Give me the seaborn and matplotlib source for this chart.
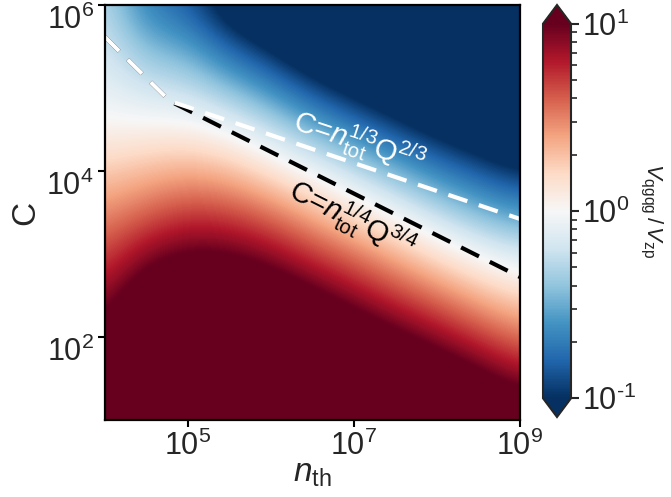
import numpy as np
import matplotlib
matplotlib.use("Agg")
import matplotlib.pyplot as plt
import matplotlib.ticker as mticker
from matplotlib.colors import LogNorm, Normalize
import matplotlib.cm as cm
import seaborn as sns

# ---------------- data ----------------
# grid positions (log10 of n_th and of C)
log_nth = [4.0, 4.5, 5.0, 5.5, 6.0, 6.5, 7.0, 7.5, 8.0, 8.5, 9.0]
log_C = [1.0, 1.5, 2.0, 2.5, 3.0, 3.5, 4.0, 4.5, 5.0, 5.5, 6.0]
# log10 of the plotted ratio, rows follow log_C, columns follow log_nth
log_ratio = [
    [1.46, 2.16, 2.37, 2.38, 2.32, 2.14, 1.96, 1.79, 1.64, 1.46, 1.26],
    [1.26, 1.84, 2.03, 2.04, 1.96, 1.79, 1.61, 1.43, 1.27, 1.09, 0.90],
    [1.06, 1.53, 1.70, 1.70, 1.61, 1.43, 1.25, 1.07, 0.90, 0.72, 0.54],
    [0.86, 1.22, 1.37, 1.36, 1.25, 1.07, 0.89, 0.71, 0.54, 0.35, 0.20],
    [0.66, 0.91, 1.03, 1.01, 0.89, 0.71, 0.54, 0.35, 0.15, -0.03, -0.17],
    [0.46, 0.59, 0.70, 0.67, 0.54, 0.35, 0.15, -0.04, -0.25, -0.44, -0.58],
    [0.25, 0.32, 0.38, 0.32, 0.15, -0.04, -0.25, -0.46, -0.67, -0.84, -1.00],
    [0.04, 0.05, 0.06, -0.04, -0.23, -0.46, -0.67, -0.88, -1.08, -1.24, -1.42],
    [-0.08, -0.20, -0.24, -0.42, -0.63, -0.89, -1.10, -1.30, -1.50, -1.64, -1.83],
    [-0.17, -0.45, -0.53, -0.81, -1.04, -1.32, -1.53, -1.73, -1.92, -2.03, -2.25],
    [-0.27, -0.70, -0.82, -1.19, -1.46, -1.75, -1.97, -2.15, -2.33, -2.43, -2.67],
]

# boundary lines (log10 n_th, log10 C)
line13_logn = [4.0, 4.78, 9.0]
line13_logC = [5.614, 4.843, 3.422]
line14_logn = [4.0, 4.78, 9.0]
line14_logC = [5.614, 4.843, 2.723]

label13 = r"C=$n_{\rm tot}^{1/3}$Q$^{2/3}$"
label14 = r"C=$n_{\rm tot}^{1/4}$Q$^{3/4}$"
cbar_label = r"$V_{\rm qgqg}\,/\,V_{\rm zp}$"
x_tick_exps = [5, 7, 9]
y_tick_exps = [2, 4, 6]
cbar_ticks = [0.1, 1, 10]
cbar_ticklabels = [r"$10^{\text{-1}}$", r"$10^{0}$", r"$10^{1}$"]

# ---------------- style ----------------
sns.set_style("ticks")
plt.rcParams["font.family"] = ["Liberation Sans", "DejaVu Sans"]
plt.rcParams["mathtext.fontset"] = "custom"
plt.rcParams["mathtext.rm"] = "Liberation Sans"
plt.rcParams["mathtext.it"] = "Liberation Sans:italic"
plt.rcParams["mathtext.bf"] = "Liberation Sans:bold"
plt.rcParams["axes.linewidth"] = 1.5
plt.rcParams["axes.unicode_minus"] = False

cmap = sns.color_palette("RdBu_r", as_cmap=True)

fig = plt.figure(figsize=(6.71, 4.97), dpi=100)
ax = fig.add_axes([105 / 671, 1 - 420 / 497, 415 / 671, 415 / 497])
cax = fig.add_axes([543 / 671, 1 - 417 / 497, 28 / 671, 412 / 497])

# the axes are in decades (log10 units); tick labels show 10^k
dx = (log_nth[1] - log_nth[0]) / 2
dy = (log_C[1] - log_C[0]) / 2
ax.imshow(np.array(log_ratio), origin="lower", cmap=cmap, norm=Normalize(-1, 1),
          extent=[log_nth[0] - dx, log_nth[-1] + dx, log_C[0] - dy, log_C[-1] + dy],
          interpolation="bicubic", interpolation_stage="data", aspect="auto")
ax.set_xlim(log_nth[0], log_nth[-1])
ax.set_ylim(log_C[0], log_C[-1])

dash = (0, (4.8, 2.9))
sns.lineplot(x=line14_logn, y=line14_logC, ax=ax, color="black", lw=3,
             linestyle=dash, sort=False, estimator=None)
sns.lineplot(x=line13_logn, y=line13_logC, ax=ax, color="white", lw=3,
             linestyle=dash, sort=False, estimator=None)

ax.text(7.06, 4.34, label13, color="white", fontsize=21,
        rotation=-18.4, ha="center", va="center", rotation_mode="anchor")
ax.text(6.98, 3.42, label14, color="black", fontsize=21,
        rotation=-26.6, ha="center", va="center", rotation_mode="anchor")

pow_fmt = mticker.FuncFormatter(lambda v, p: r"$10^{%d}$" % round(v))
ax.xaxis.set_major_locator(mticker.FixedLocator(x_tick_exps))
ax.yaxis.set_major_locator(mticker.FixedLocator(y_tick_exps))
ax.xaxis.set_major_formatter(pow_fmt)
ax.yaxis.set_major_formatter(pow_fmt)
ax.xaxis.set_minor_locator(mticker.NullLocator())
ax.yaxis.set_minor_locator(mticker.NullLocator())
ax.tick_params(axis="both", which="major", direction="out", length=5,
               width=1.5, labelsize=22, pad=3, color="black")
for t in ax.yaxis.get_major_ticks(len(y_tick_exps)):
    t.label1.set_verticalalignment("top")
for s in ax.spines.values():
    s.set_linewidth(1.6)
    s.set_color("black")

ax.set_xlabel(r"$n_{\rm th}$", fontsize=24, labelpad=-3)
ax.set_ylabel("C", fontsize=24, labelpad=4)

sm = cm.ScalarMappable(norm=LogNorm(0.1, 10), cmap=cmap)
cbar = fig.colorbar(sm, cax=cax, extend="both")
cbar.outline.set_linewidth(1.5)
cbar.set_ticks(cbar_ticks)
cbar.set_ticklabels(cbar_ticklabels)
cbar.ax.tick_params(which="major", length=6, width=1.5, labelsize=22, pad=2)
cbar.ax.tick_params(which="minor", length=4, width=1.2)
cbar.set_label(cbar_label, fontsize=16, rotation=270, va="bottom", labelpad=1)

fig.savefig("out.png", dpi=100)
